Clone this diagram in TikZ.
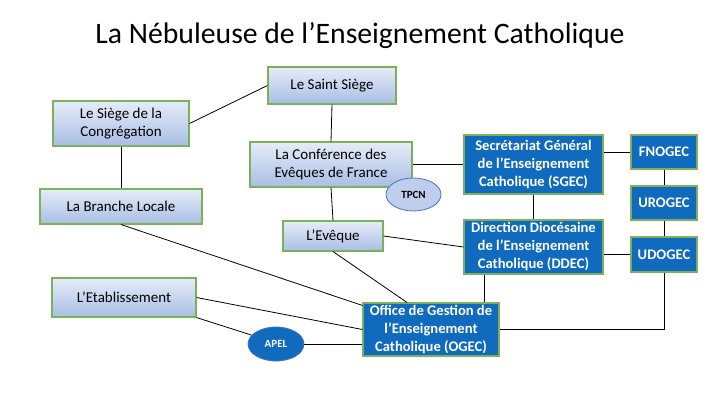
\documentclass[tikz,border=0pt]{standalone}
\usepackage{fontspec}
\setmainfont{Carlito}
\usetikzlibrary{shapes.geometric}
\definecolor{boxgreen}{RGB}{125,176,90}
\definecolor{darkblue}{RGB}{16,106,190}
\definecolor{paleblue}{RGB}{230,236,248}
\definecolor{midblue}{RGB}{168,190,228}
\definecolor{ovalblue}{RGB}{190,206,236}
\definecolor{ovalline}{RGB}{70,115,196}

\begin{document}
\begin{tikzpicture}[x=1pt,y=-1pt,
    lightbox/.style={draw=boxgreen,line width=1.1pt,top color=paleblue,bottom color=midblue,
      inner sep=0pt,align=center,font=\fontsize{15}{18}\selectfont},
    darkbox/.style={draw=boxgreen,line width=1.1pt,fill=darkblue,text=white,
      inner sep=0pt,align=center,font=\fontsize{14.6}{18}\selectfont\bfseries},
    oval/.style={ellipse,draw=ovalline,line width=0.8pt,inner sep=0pt,
      font=\fontsize{11}{12}\selectfont\bfseries},
    link/.style={draw=black,line width=0.8pt}]
  \useasboundingbox (0,0) rectangle (720,405);
  \node[font=\fontsize{29.7}{34}\selectfont] (title) at (360,36) {La Nébuleuse de l’Enseignement Catholique};

  % la partie gauche
  \node[lightbox,minimum width=128,minimum height=37] (saint) at (332,85.5) {Le Saint Siège};
  \node[lightbox,minimum width=136,minimum height=45] (congr) at (121,123.5) {Le Siège de la\\Congrégation};
  \node[lightbox,minimum width=162,minimum height=45] (conf) at (331,164.5) {La Conférence des\\Evêques de France};
  \node[oval,fill=ovalblue,minimum width=55,minimum height=33] (tpcn) at (413.5,194.5) {TPCN};
  \node[lightbox,minimum width=162,minimum height=35] (branche) at (121,206.5) {La Branche Locale};
  \node[lightbox,minimum width=100,minimum height=30] (eveque) at (333,236) {L’Evêque};
  \node[lightbox,minimum width=144,minimum height=39] (etab) at (124,297.5) {L’Etablissement};
  \node[oval,fill=darkblue,text=white,minimum width=56,minimum height=34] (apel) at (276,344) {APEL};

  % la partie droite
  \node[darkbox,minimum width=139,minimum height=59] (sgec) at (533.5,164.5) {Secrétariat Général\\de l’Enseignement\\Catholique (SGEC)};
  \node[darkbox,minimum width=139,minimum height=54] (ddec) at (533.5,247) {Direction Diocésaine\\de l’Enseignement\\Catholique (DDEC)};
  \node[darkbox,minimum width=136,minimum height=53] (ogec) at (431,329.5) {Office de Gestion de\\l’Enseignement\\Catholique (OGEC)};
  \node[darkbox,minimum width=66,minimum height=34] (fnogec) at (664,152) {FNOGEC};
  \node[darkbox,minimum width=66,minimum height=34] (urogec) at (664,203) {UROGEC};
  \node[darkbox,minimum width=66,minimum height=35] (udogec) at (664,254.5) {UDOGEC};

  % les liens
  \draw[link] (congr.east) -- (saint.west);
  \draw[link] (saint.south) -- (conf.north);
  \draw[link] (congr.south) -- (branche.north);
  \draw[link] (conf.south) -- (eveque.north);
  \draw[link] (conf.east) -- (sgec.west);
  \draw[link] (sgec.east |- fnogec.west) -- (fnogec.west);
  \draw[link] (fnogec.south) -- (urogec.north);
  \draw[link] (urogec.south) -- (udogec.north);
  \draw[link] (sgec.south) -- (ddec.north);
  \draw[link] (ddec.east |- udogec.west) -- (udogec.west);
  \draw[link] (eveque.east) -- (ddec.west);
  \draw[link] ([xshift=21]ddec.south west) -- ([xshift=21]ddec.south west |- ogec.north);
  \draw[link] (udogec.south) |- (ogec.east);
  \draw[link] (branche.south) -- ([yshift=-3]ogec.north west);
  \draw[link] (eveque.south) -- ([xshift=-24]ogec.north);
  \draw[link] (etab.east) -- (ogec.west);
  \draw[link] (etab.south east) -- (apel.160);
  \draw[link] (apel.east) -- (apel.east -| ogec.west);
\end{tikzpicture}
\end{document}
